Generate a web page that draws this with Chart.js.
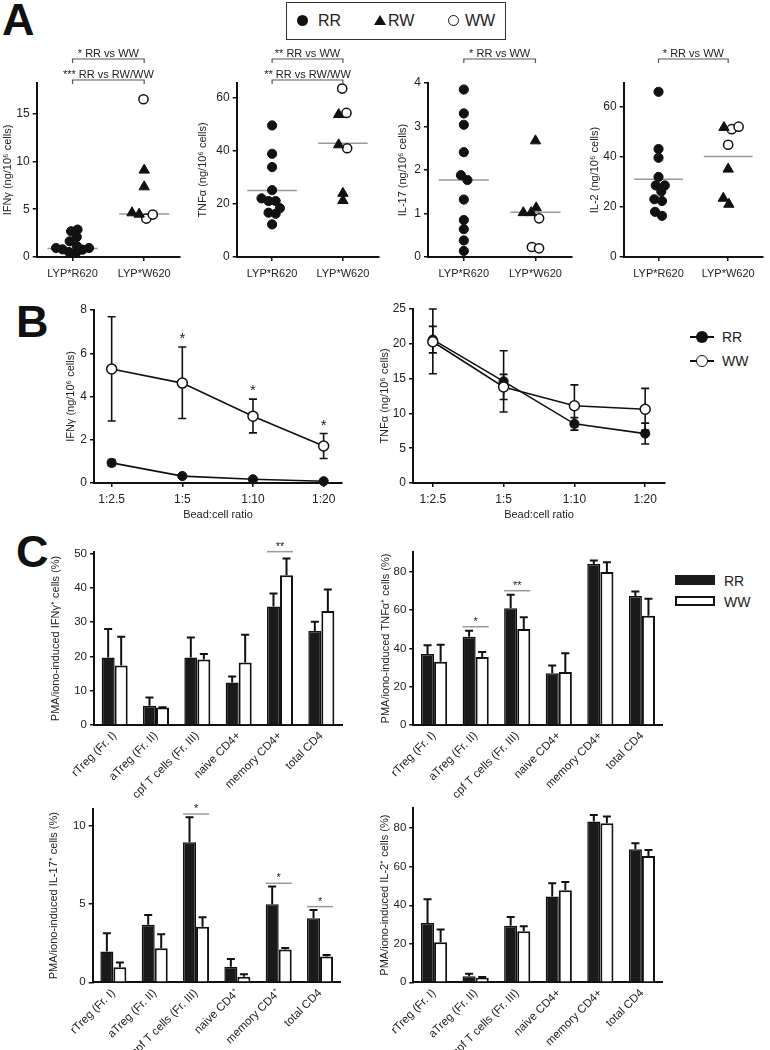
<!DOCTYPE html>
<html>
<head>
<meta charset="utf-8">
<script src="https://cdn.jsdelivr.net/npm/chart.js@4.4.1/dist/chart.umd.min.js"></script>
<style>
  body { margin: 0; background: #fff; width: 770px; height: 1050px; position: relative; overflow: hidden;
         font-family: Arial, "Liberation Sans", Helvetica, sans-serif; color: #222; }
  canvas { position: absolute; }
  .abs { position: absolute; }
  .letter { position: absolute; font-weight: bold; font-size: 45px; line-height: 1; color: #111; }
  .txt { position: absolute; font-size: 14px; line-height: 16px; }
  .big { font-size: 16px; }
</style>
</head>
<body>
<div class="letter" style="left:2px;top:-3px">A</div>
<div class="letter" style="left:16px;top:299px">B</div>
<div class="letter" style="left:16px;top:529px">C</div>

<!-- panel A legend -->
<div class="abs" style="left:286px;top:2px;width:220px;height:38px;border:1.5px solid #333;box-sizing:border-box"></div>
<div class="abs" style="left:297px;top:15px;width:11px;height:11px;border-radius:50%;background:#111"></div>
<div class="txt big" style="left:318px;top:13px">RR</div>
<div class="abs" style="left:374px;top:15px;width:0;height:0;border-left:6px solid transparent;border-right:6px solid transparent;border-bottom:10px solid #111"></div>
<div class="txt big" style="left:388px;top:13px">RW</div>
<div class="abs" style="left:448px;top:15px;width:11px;height:11px;border-radius:50%;border:1.5px solid #111;box-sizing:border-box"></div>
<div class="txt big" style="left:465px;top:13px">WW</div>

<!-- panel B legend -->
<div class="abs" style="left:690px;top:336px;width:24px;height:2px;background:#111"></div>
<div class="abs" style="left:696px;top:331px;width:12px;height:12px;border-radius:50%;background:#111"></div>
<div class="txt" style="left:722px;top:329px">RR</div>
<div class="abs" style="left:690px;top:360px;width:24px;height:2px;background:#111"></div>
<div class="abs" style="left:696px;top:355px;width:12px;height:12px;border-radius:50%;background:#fff;border:1.5px solid #111;box-sizing:border-box"></div>
<div class="txt" style="left:722px;top:353px">WW</div>

<!-- panel C legend -->
<div class="abs" style="left:675px;top:575px;width:40px;height:10px;background:#1a1a1a"></div>
<div class="txt" style="left:724px;top:573px">RR</div>
<div class="abs" style="left:675px;top:596px;width:40px;height:10px;background:#fff;border:2px solid #111;box-sizing:border-box"></div>
<div class="txt" style="left:724px;top:594px">WW</div>

<canvas id="a1"></canvas>
<canvas id="a2"></canvas>
<canvas id="a3"></canvas>
<canvas id="a4"></canvas>
<canvas id="b1"></canvas>
<canvas id="b2"></canvas>
<canvas id="c1"></canvas>
<canvas id="c2"></canvas>
<canvas id="c3"></canvas>
<canvas id="c4"></canvas>

<script>
// ---------- panel A: cytokine per donor ----------
const groupLabels = ["LYP*R620", "LYP*W620"];

const aIfnRR = [0.94, 0.80, 0.52, 0.45, 0.77, 0.94, 1.15, 1.64, 2.10, 2.69, 2.87];
const aIfnRRJit = [-0.23, -0.14, -0.05, 0.05, 0.14, 0.23, 0.06, -0.04, 0.06, -0.02, 0.07];
const aIfnRW = [9.09, 7.34, 4.62, 4.48];
const aIfnRWJit = [0, 0, -0.17, -0.07];
const aIfnWW = [16.5, 4.02, 4.44];
const aIfnWWJit = [-0.01, 0.03, 0.12];
const aIfnMid = [0.9, 4.5];
const aIfnSig = ["* RR vs WW", "*** RR vs RW/WW"];

const aTnfRR = [49.6, 38.9, 33.9, 25.2, 22.1, 21.1, 21.1, 18.4, 16.7, 16.3, 12.3];
const aTnfRRJit = [0, 0, 0, 0, -0.15, -0.05, 0.05, 0.11, -0.05, 0.05, 0];
const aTnfRW = [53.7, 42.3, 24.0, 21.3];
const aTnfRWJit = [-0.06, -0.06, 0, 0];
const aTnfWW = [63.5, 54.3, 41.0];
const aTnfWWJit = [-0.01, 0.05, 0.06];
const aTnfMid = [25.1, 42.9];
const aTnfSig = ["** RR vs WW", "** RR vs RW/WW"];

const aIl17RR = [3.85, 3.30, 3.04, 2.41, 1.88, 1.77, 1.32, 0.85, 0.64, 0.38, 0.14];
const aIl17RRJit = [0, 0, 0, 0, -0.04, 0.05, 0, 0, 0, 0, 0];
const aIl17RW = [2.67, 1.02, 1.02, 1.13];
const aIl17RWJit = [0, -0.17, -0.06, 0.01];
const aIl17WW = [0.89, 0.23, 0.20];
const aIl17WWJit = [0.05, -0.05, 0.05];
const aIl17Mid = [1.77, 1.03];
const aIl17Sig = ["* RR vs WW"];

const aIl2RR = [65.8, 43.0, 39.5, 31.9, 28.5, 28.5, 26.1, 23.0, 22.3, 18.0, 16.4];
const aIl2RRJit = [0, 0, 0, 0, -0.04, 0.09, 0.04, -0.06, 0.05, -0.05, 0.05];
const aIl2RW = [51.6, 35.0, 23.4, 21.0];
const aIl2RWJit = [-0.06, 0, -0.07, 0.01];
const aIl2WW = [50.9, 51.9, 44.7];
const aIl2WWJit = [0.05, 0.15, 0];
const aIl2Mid = [31.0, 40.0];
const aIl2Sig = ["* RR vs WW"];

// ---------- panel B: bead:cell titration ----------
const ratios = ["1:2.5", "1:5", "1:10", "1:20"];

const bIfnRR = [0.93, 0.32, 0.17, 0.08];
const bIfnRRHi = [1.08, 0.36, 0.20, 0.10];
const bIfnRRLo = [0.80, 0.28, 0.14, 0.06];
const bIfnWW = [5.27, 4.62, 3.09, 1.71];
const bIfnWWHi = [7.69, 6.29, 3.88, 2.29];
const bIfnWWLo = [2.87, 2.98, 2.32, 1.13];
const bIfnStars = ["", "*", "*", "*"];

const bTnfRR = [20.6, 14.6, 8.5, 7.1];
const bTnfRRHi = [22.5, 19.0, 9.4, 8.6];
const bTnfRRLo = [18.7, 10.2, 7.6, 5.6];
const bTnfWW = [20.3, 13.8, 11.1, 10.6];
const bTnfWWHi = [25.0, 15.6, 14.1, 13.6];
const bTnfWWLo = [15.7, 12.0, 8.1, 7.6];

// ---------- panel C: PMA/iono-induced cytokine+ cells ----------
const cells = ["rTreg (Fr. I)", "aTreg (Fr. II)", "cpf T cells (Fr. III)", "naive CD4+", "memory CD4+", "total CD4"];
const cellsSup = ["rTreg (Fr. I)", "aTreg (Fr. II)", "cpf T cells (Fr. III)", "naive CD4\u207a", "memory CD4\u207a", "total CD4"];

const cIfnRR = [19.7, 5.6, 19.7, 12.4, 34.5, 27.4];
const cIfnRRTop = [28.0, 8.0, 25.5, 14.1, 38.3, 30.1];
const cIfnWW = [17.3, 5.1, 19.1, 18.2, 43.6, 33.2];
const cIfnWWTop = [25.7, 5.2, 20.7, 26.3, 48.5, 39.5];
const cIfnTicks = [0, 10, 20, 30, 40, 50];
const cIfnSigCats = [4];
const cIfnSigVals = [50.5];
const cIfnSigMarks = ["**"];

const cTnfRR = [37.0, 46.1, 60.9, 27.0, 84.0, 67.3];
const cTnfRRTop = [41.6, 49.2, 68.0, 31.0, 85.9, 69.7];
const cTnfWW = [33.0, 35.5, 50.1, 27.7, 79.8, 57.0];
const cTnfWWTop = [41.9, 38.1, 56.2, 37.4, 84.9, 65.9];
const cTnfTicks = [0, 20, 40, 60, 80];
const cTnfSigCats = [1, 2];
const cTnfSigVals = [51.3, 70.1];
const cTnfSigMarks = ["*", "**"];

const cIl17RR = [1.96, 3.68, 8.94, 1.00, 4.98, 4.09];
const cIl17RRTop = [3.13, 4.30, 10.53, 1.49, 6.11, 4.62];
const cIl17WW = [0.96, 2.17, 3.55, 0.36, 2.09, 1.64];
const cIl17WWTop = [1.26, 3.06, 4.15, 0.51, 2.19, 1.74];
const cIl17Ticks = [0, 5, 10];
const cIl17SigCats = [2, 4, 5];
const cIl17SigVals = [10.74, 6.32, 4.83];
const cIl17SigMarks = ["*", "*", "*"];

const cIl2RR = [30.8, 3.1, 29.3, 44.5, 83.5, 69.1];
const cIl2RRTop = [43.1, 4.5, 33.9, 51.4, 86.9, 72.2];
const cIl2WW = [20.8, 2.4, 26.5, 47.8, 82.6, 65.6];
const cIl2WWTop = [27.4, 2.8, 29.1, 52.1, 86.1, 68.7];
const cIl2Ticks = [0, 20, 40, 60, 80];

// ---------- common setup ----------
const FONT = 'Arial, "Liberation Sans", Helvetica, sans-serif';
const INK = "#111";
Chart.defaults.font.family = FONT;
Chart.defaults.font.size = 11;
Chart.defaults.color = "#222";
Chart.defaults.animation = false;
Chart.defaults.events = [];
Chart.defaults.plugins.legend.display = false;
Chart.defaults.plugins.tooltip.enabled = false;

const MID_HALF = 0.35; // half width of the median line
const CAP = 4;         // half width of error-bar caps

// box = canvas [left, top, width, height]; area = plot [left, top, right, bottom], page pixels
function place(id, box, area) {
  const cv = document.getElementById(id);
  cv.width = box[2];
  cv.height = box[3];
  cv.style.left = box[0] + "px";
  cv.style.top = box[1] + "px";
  return {
    cv: cv,
    padding: { left: 0, top: area[1] - box[1], right: box[0] + box[2] - area[2], bottom: 0 },
    yWidth: area[0] - box[0],
    xHeight: box[1] + box[3] - area[3],
  };
}

function fixX(g) {
  return (s) => { s.height = g.xHeight; s.paddingLeft = 0; s.paddingRight = 0; };
}
function fixY(g) {
  return (s) => { s.width = g.yWidth; s.paddingTop = 0; s.paddingBottom = 0; };
}
function setTicks(vals) {
  return (s) => { s.ticks = vals.map((v) => ({ value: v })); };
}

function yScale(g, max, ticks, title, size) {
  return {
    min: 0,
    max: max,
    border: { color: INK, width: 2 },
    grid: { drawOnChartArea: false, color: INK, lineWidth: 1.5, tickLength: 4 },
    ticks: { font: { size: size }, padding: 3 },
    title: { display: true, text: title, font: { size: 11 }, padding: 0 },
    afterBuildTicks: setTicks(ticks),
    afterFit: fixY(g),
  };
}

// ---------- panel A ----------
function bracketPlugin(texts) {
  return {
    id: "brackets",
    afterDraw(chart) {
      const { ctx, chartArea, scales } = chart;
      const x1 = scales.x.getPixelForValue(1);
      const x2 = scales.x.getPixelForValue(2);
      ctx.save();
      texts.forEach((t, k) => {
        const yy = chartArea.top - 24 + 21 * k;
        ctx.strokeStyle = "#555";
        ctx.lineWidth = 1.2;
        ctx.beginPath();
        ctx.moveTo(x1, yy + 4);
        ctx.lineTo(x1, yy);
        ctx.lineTo(x2, yy);
        ctx.lineTo(x2, yy + 4);
        ctx.stroke();
        ctx.fillStyle = "#222";
        ctx.font = "11px " + FONT;
        ctx.textAlign = "center";
        ctx.textBaseline = "alphabetic";
        ctx.fillText(t, (x1 + x2) / 2, yy - 2);
      });
      ctx.restore();
    },
  };
}

function scatterA(id, box, area, yMax, yTicks, yTitle, rr, rrJit, rw, rwJit, ww, wwJit, mid, sig) {
  const g = place(id, box, area);
  const pts = (vals, jit, c) => vals.map((v, i) => ({ x: c + jit[i], y: v }));
  const midLine = (c, v) => ({
    data: [{ x: c - MID_HALF, y: v }, { x: c + MID_HALF, y: v }],
    showLine: true, pointRadius: 0, borderColor: "#999", borderWidth: 1.5, order: 2, clip: false,
  });
  new Chart(g.cv, {
    type: "scatter",
    data: {
      datasets: [
        { data: pts(rr, rrJit, 1), pointStyle: "circle", pointRadius: 4.6, backgroundColor: INK, borderColor: INK, borderWidth: 1, order: 1, clip: false },
        { data: pts(rw, rwJit, 2), pointStyle: "triangle", pointRadius: 6, backgroundColor: INK, borderColor: INK, borderWidth: 1, order: 1, clip: false },
        { data: pts(ww, wwJit, 2), pointStyle: "circle", pointRadius: 4.6, backgroundColor: "#fff", borderColor: INK, borderWidth: 1.5, order: 1, clip: false },
        midLine(1, mid[0]),
        midLine(2, mid[1]),
      ],
    },
    options: {
      responsive: false,
      layout: { padding: g.padding },
      scales: {
        x: {
          type: "linear",
          min: 0.5,
          max: 2.5,
          border: { color: INK, width: 2 },
          grid: { drawOnChartArea: false, color: INK, lineWidth: 1.5, tickLength: 4 },
          ticks: { font: { size: 11 }, padding: 6, callback: (v) => groupLabels[v - 1] },
          afterBuildTicks: setTicks([1, 2]),
          afterFit: fixX(g),
        },
        y: yScale(g, yMax, yTicks, yTitle, 12),
      },
    },
    plugins: [bracketPlugin(sig)],
  });
}

scatterA("a1", [1, 40, 190, 240], [36.7, 83, 180, 257], 18.2, [0, 5, 10, 15], "IFN\u03b3 (ng/10\u2076 cells)",
  aIfnRR, aIfnRRJit, aIfnRW, aIfnRWJit, aIfnWW, aIfnWWJit, aIfnMid, aIfnSig);
scatterA("a2", [196, 40, 190, 240], [236.7, 83, 378.3, 257], 65.6, [0, 20, 40, 60], "TNF\u03b1 (ng/10\u2076 cells)",
  aTnfRR, aTnfRRJit, aTnfRW, aTnfRWJit, aTnfWW, aTnfWWJit, aTnfMid, aTnfSig);
scatterA("a3", [396, 40, 188, 240], [428, 83, 571.3, 257], 4.0, [0, 1, 2, 3, 4], "IL-17 (ng/10\u2076 cells)",
  aIl17RR, aIl17RRJit, aIl17RW, aIl17RWJit, aIl17WW, aIl17WWJit, aIl17Mid, aIl17Sig);
scatterA("a4", [588, 40, 182, 240], [623.7, 83, 766, 257], 69.3, [0, 20, 40, 60], "IL-2 (ng/10\u2076 cells)",
  aIl2RR, aIl2RRJit, aIl2RW, aIl2RWJit, aIl2WW, aIl2WWJit, aIl2Mid, aIl2Sig);

// ---------- panel B ----------
function errPlugin(sets, stars, starRow) {
  return {
    id: "errs",
    beforeDatasetsDraw(chart) {
      const { ctx, scales } = chart;
      ctx.save();
      ctx.strokeStyle = INK;
      ctx.lineWidth = 1.6;
      sets.forEach(([hi, lo]) => {
        hi.forEach((h, i) => {
          const px = scales.x.getPixelForValue(i);
          const t = scales.y.getPixelForValue(h);
          const b = scales.y.getPixelForValue(lo[i]);
          ctx.beginPath();
          ctx.moveTo(px, t); ctx.lineTo(px, b);
          ctx.moveTo(px - CAP, t); ctx.lineTo(px + CAP, t);
          ctx.moveTo(px - CAP, b); ctx.lineTo(px + CAP, b);
          ctx.stroke();
        });
      });
      ctx.fillStyle = "#222";
      ctx.font = "15px " + FONT;
      ctx.textAlign = "center";
      ctx.textBaseline = "middle";
      stars.forEach((s, i) => {
        if (!s) return;
        ctx.fillText(s, scales.x.getPixelForValue(i), scales.y.getPixelForValue(starRow[i]) - 8);
      });
      ctx.restore();
    },
  };
}

function lineB(id, box, area, xMin, xMax, yMax, yTicks, yTitle, rr, ww, sets, stars, starRow) {
  const g = place(id, box, area);
  const pts = (vals) => vals.map((v, i) => ({ x: i, y: v }));
  new Chart(g.cv, {
    type: "scatter",
    data: {
      datasets: [
        { data: pts(ww), showLine: true, borderColor: INK, borderWidth: 1.6, pointRadius: 5,
          pointBackgroundColor: "#fff", pointBorderColor: INK, pointBorderWidth: 1.5, clip: false },
        { data: pts(rr), showLine: true, borderColor: INK, borderWidth: 1.6, pointRadius: 4.6,
          pointBackgroundColor: INK, pointBorderColor: INK, pointBorderWidth: 1, clip: false },
      ],
    },
    options: {
      responsive: false,
      layout: { padding: g.padding },
      scales: {
        x: {
          type: "linear",
          min: xMin,
          max: xMax,
          border: { color: INK, width: 2 },
          grid: { drawOnChartArea: false, color: INK, lineWidth: 1.5, tickLength: 4 },
          ticks: { font: { size: 12 }, padding: 5, callback: (v) => ratios[v] },
          title: { display: true, text: "Bead:cell ratio", font: { size: 11 }, padding: 0 },
          afterBuildTicks: setTicks([0, 1, 2, 3]),
          afterFit: fixX(g),
        },
        y: yScale(g, yMax, yTicks, yTitle, 12),
      },
    },
    plugins: [errPlugin(sets, stars, starRow)],
  });
}

lineB("b1", [64, 280, 300, 242], [94, 310, 342, 483], -0.25, 3.26, 8, [0, 2, 4, 6, 8], "IFN\u03b3 (ng/10\u2076 cells)",
  bIfnRR, bIfnWW, [[bIfnRRHi, bIfnRRLo], [bIfnWWHi, bIfnWWLo]], bIfnStars, bIfnWWHi);
lineB("b2", [378, 280, 300, 242], [413, 309, 665, 483], -0.28, 3.28, 25, [0, 5, 10, 15, 20, 25], "TNF\u03b1 (ng/10\u2076 cells)",
  bTnfRR, bTnfWW, [[bTnfRRHi, bTnfRRLo], [bTnfWWHi, bTnfWWLo]], [], []);

// ---------- panel C ----------
function barExtras(tops, sigCats, sigVals, sigMarks) {
  return {
    id: "barExtras",
    afterDatasetsDraw(chart) {
      const { ctx, scales } = chart;
      ctx.save();
      ctx.strokeStyle = INK;
      ctx.lineWidth = 2;
      tops.forEach((top, d) => {
        chart.getDatasetMeta(d).data.forEach((bar, i) => {
          const t = scales.y.getPixelForValue(top[i]);
          ctx.beginPath();
          ctx.moveTo(bar.x, bar.y); ctx.lineTo(bar.x, t);
          ctx.moveTo(bar.x - CAP, t); ctx.lineTo(bar.x + CAP, t);
          ctx.stroke();
        });
      });
      sigCats.forEach((c, k) => {
        const a = chart.getDatasetMeta(0).data[c];
        const b = chart.getDatasetMeta(1).data[c];
        const yy = scales.y.getPixelForValue(sigVals[k]);
        ctx.strokeStyle = "#999";
        ctx.lineWidth = 1.5;
        ctx.beginPath();
        ctx.moveTo(a.x - a.width / 2, yy);
        ctx.lineTo(b.x + b.width / 2, yy);
        ctx.stroke();
        ctx.fillStyle = "#222";
        ctx.font = "11px " + FONT;
        ctx.textAlign = "center";
        ctx.textBaseline = "alphabetic";
        ctx.fillText(sigMarks[k], (a.x + b.x) / 2, yy - 2);
      });
      ctx.restore();
    },
  };
}

function barC(id, box, area, labels, yMax, yTicks, yTitle, rr, rrTop, ww, wwTop, sigCats, sigVals, sigMarks) {
  const g = place(id, box, area);
  new Chart(g.cv, {
    type: "bar",
    data: {
      labels: labels,
      datasets: [
        { label: "RR", data: rr, backgroundColor: "#1a1a1a", borderColor: INK, borderWidth: 1.5,
          categoryPercentage: 0.63, barPercentage: 1 },
        { label: "WW", data: ww, backgroundColor: "#fff", borderColor: INK, borderWidth: 2,
          categoryPercentage: 0.63, barPercentage: 1 },
      ],
    },
    options: {
      responsive: false,
      layout: { padding: g.padding },
      scales: {
        x: {
          border: { color: INK, width: 2 },
          grid: { drawOnChartArea: false, drawTicks: false },
          ticks: { font: { size: 11.5 }, padding: 4, maxRotation: 45, minRotation: 45, autoSkip: false },
          afterFit: fixX(g),
        },
        y: yScale(g, yMax, yTicks, yTitle, 11.5),
      },
    },
    plugins: [barExtras([rrTop, wwTop], sigCats, sigVals, sigMarks)],
  });
}

barC("c1", [49, 530, 305, 270], [94, 552, 342, 725], cells, 50.4, cIfnTicks, "PMA/iono-induced IFN\u03b3\u207a cells (%)",
  cIfnRR, cIfnRRTop, cIfnWW, cIfnWWTop, cIfnSigCats, cIfnSigVals, cIfnSigMarks);
barC("c2", [379, 530, 300, 270], [413.3, 552, 662.7, 725], cells, 90.3, cTnfTicks, "PMA/iono-induced TNF\u03b1\u207a cells (%)",
  cTnfRR, cTnfRRTop, cTnfWW, cTnfWWTop, cTnfSigCats, cTnfSigVals, cTnfSigMarks);
barC("c3", [47, 790, 305, 260], [92.7, 809, 340.7, 982.3], cellsSup, 11.06, cIl17Ticks, "PMA/iono-induced IL-17\u207a cells (%)",
  cIl17RR, cIl17RRTop, cIl17WW, cIl17WWTop, cIl17SigCats, cIl17SigVals, cIl17SigMarks);
barC("c4", [378, 790, 300, 260], [413.3, 808, 662.7, 982.3], cells, 90.5, cIl2Ticks, "PMA/iono-induced IL-2\u207a cells (%)",
  cIl2RR, cIl2RRTop, cIl2WW, cIl2WWTop, [], [], []);
</script>
</body>
</html>
